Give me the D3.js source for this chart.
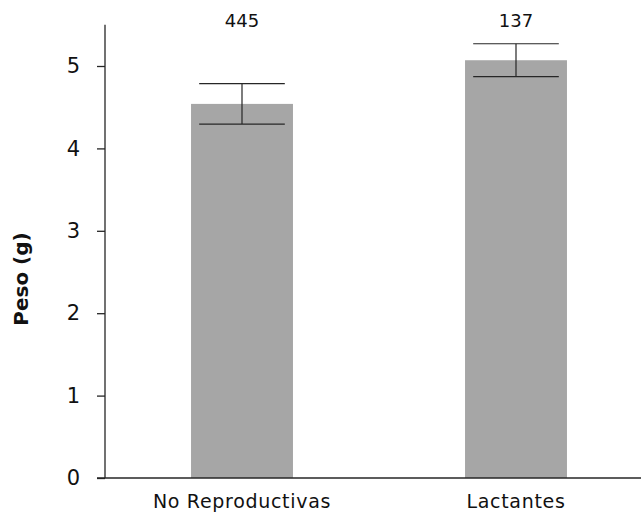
<!DOCTYPE html>
<html>
<head>
<meta charset="utf-8">
<script src="https://cdn.jsdelivr.net/npm/d3@7"></script>
<style>
  html, body { margin: 0; padding: 0; background: #fff; }
  svg { display: block; }
</style>
</head>
<body>
<svg id="chart" width="641" height="514"></svg>
<script>
// Mean body weight per reproductive state, with error bars and sample sizes
const categories = ["No Reproductivas", "Lactantes"];
const means = [4.54, 5.07];
const errors = [0.245, 0.20];
const sampleSizes = ["445", "137"];
const yTicks = [0, 1, 2, 3, 4, 5];

const svg = d3.select("#chart");
const fontFamily = "'DejaVu Sans', sans-serif";

const x = d3.scaleBand()
  .domain(categories)
  .range([105, 653])
  .paddingInner(0.628)
  .paddingOuter(0.314);

const y = d3.scaleLinear()
  .domain([0, 5.5])
  .range([478, 24.8]);

// bars
svg.append("g")
  .selectAll("rect")
  .data(categories)
  .join("rect")
  .attr("x", d => x(d))
  .attr("y", (d, i) => y(means[i]))
  .attr("width", x.bandwidth())
  .attr("height", (d, i) => y(0) - y(means[i]))
  .attr("fill", "#a6a6a6");

// error bars
const capHalf = x.bandwidth() * 0.42;
const eb = svg.append("g").attr("stroke", "#262626").attr("stroke-width", 1.2);
categories.forEach((c, i) => {
  const cx = x(c) + x.bandwidth() / 2;
  const top = y(means[i] + errors[i]);
  const bot = y(means[i] - errors[i]);
  eb.append("line").attr("x1", cx).attr("x2", cx).attr("y1", top).attr("y2", bot);
  eb.append("line").attr("x1", cx - capHalf).attr("x2", cx + capHalf).attr("y1", top).attr("y2", top);
  eb.append("line").attr("x1", cx - capHalf).attr("x2", cx + capHalf).attr("y1", bot).attr("y2", bot);
});

// sample size labels above the bars
svg.append("g")
  .selectAll("text")
  .data(categories)
  .join("text")
  .attr("x", d => x(d) + x.bandwidth() / 2)
  .attr("y", 27)
  .attr("text-anchor", "middle")
  .attr("font-family", fontFamily)
  .attr("font-size", 18)
  .attr("fill", "#111")
  .text((d, i) => sampleSizes[i]);

// y axis
const yAxis = svg.append("g")
  .attr("transform", "translate(105,0)")
  .call(d3.axisLeft(y).tickValues(yTicks).tickSize(8).tickPadding(17).tickFormat(d3.format("d")));
yAxis.select(".domain").attr("d", `M0,${y(5.5)}V${y(0)}`).attr("stroke", "#262626").attr("stroke-width", 1.3);
yAxis.selectAll(".tick line").attr("stroke", "#262626").attr("stroke-width", 1.3);
yAxis.selectAll(".tick text")
  .attr("font-family", fontFamily)
  .attr("font-size", 21)
  .attr("fill", "#111");

// x axis
const xAxis = svg.append("g")
  .attr("transform", `translate(0,${y(0)})`)
  .call(d3.axisBottom(x).tickSize(0).tickPadding(17));
xAxis.select(".domain").attr("d", "M97,0H641").attr("stroke", "#262626").attr("stroke-width", 1.3);
xAxis.selectAll(".tick text")
  .attr("font-family", fontFamily)
  .attr("font-size", 19)
  .attr("letter-spacing", 0.7)
  .attr("fill", "#111");

// y axis title
svg.append("text")
  .attr("transform", "translate(28,279) rotate(-90)")
  .attr("text-anchor", "middle")
  .attr("font-family", fontFamily)
  .attr("font-weight", "bold")
  .attr("font-size", 20)
  .attr("fill", "#111")
  .text("Peso (g)");
</script>
</body>
</html>
